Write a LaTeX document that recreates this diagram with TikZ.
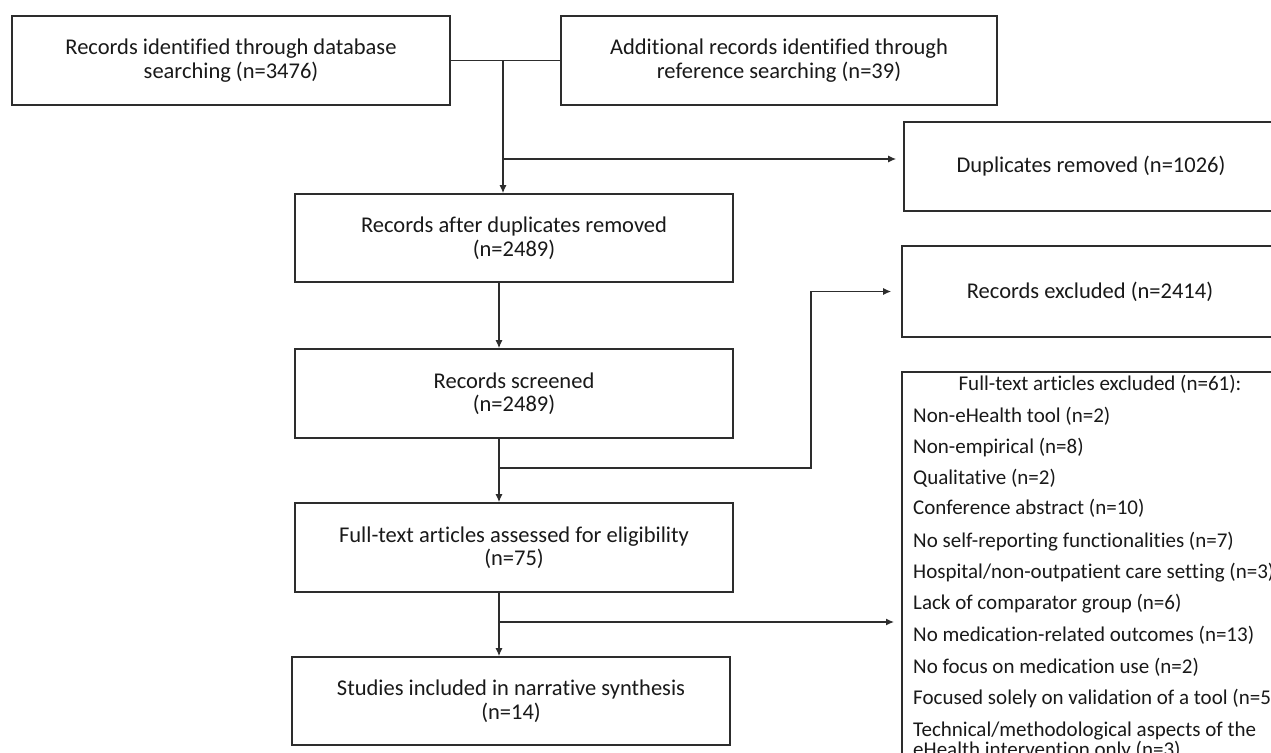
\documentclass[tikz,border=0pt]{standalone}
\usepackage{fontspec}
\setmainfont{Carlito}[Ligatures=NoCommon]
\usetikzlibrary{arrows.meta}
\definecolor{linegray}{RGB}{45,45,45}
\definecolor{inkgray}{RGB}{25,25,25}
\newcommand{\flowboxfont}{\fontsize{22.5}{23.5}\selectfont}
\newcommand{\flowlistfont}{\fontsize{21}{22}\selectfont}
\begin{document}
\begin{tikzpicture}[x=1pt,y=-1pt,
  box/.style={draw=linegray, line width=1.6pt, minimum width=438pt,
    minimum height=89pt, inner sep=0pt, align=center, font=\flowboxfont, text=inkgray},
  link/.style={draw=linegray, line width=1.3pt},
  arr/.style={link, -{Latex[length=8pt,width=7pt]}},
  item/.style={anchor=base west, inner sep=0pt, font=\flowlistfont, text=inkgray}]

\useasboundingbox (0,0) rectangle (1271,752);
\fill[white] (0,0) rectangle (1271,752);
\clip (0,0) rectangle (1271,752);

% identification
\node[box] (dbsearch) at (231,60.5) {Records identified through database\\searching (n=3476)};
\node[box, minimum width=436pt] (refsearch) at (779,60.5) {Additional records identified through\\reference searching (n=39)};

% main column
\node[box, minimum height=88pt] (dedup) at (514,238) {Records after duplicates removed\\(n=2489)};
\node[box] (screened) at (514,393.5) {Records screened\\(n=2489)};
\node[box] (fulltext) at (514,547.5) {Full-text articles assessed for eligibility\\(n=75)};
\node[box, minimum height=88pt] (included) at (511,701) {Studies included in narrative synthesis\\(n=14)};

% exclusions
\node[box, minimum width=374pt] (duplicates) at (1091,166.5) {Duplicates removed (n=1026)};
\node[box, minimum width=376pt, minimum height=91pt] (recexcl) at (1090,291.5) {Records excluded (n=2414)};
\node[draw=linegray, line width=1.6pt, minimum width=400pt, minimum height=420pt,
      inner sep=0pt, anchor=north west] (ftexcl) at (901,371) {};

\node[font=\flowlistfont, text=inkgray, anchor=base, inner sep=0pt] (ftexcltitle) at (1100,390) {Full-text articles excluded (n=61):};
\node[item] (r1)  at (913,422) {Non-eHealth tool (n=2)};
\node[item] (r2)  at (913,453) {Non-empirical (n=8)};
\node[item] (r3)  at (913,484) {Qualitative (n=2)};
\node[item] (r4)  at (913,514) {Conference abstract (n=10)};
\node[item] (r5)  at (913,547) {No self-reporting functionalities (n=7)};
\node[item] (r6)  at (913,578) {Hospital/non-outpatient care setting (n=3)};
\node[item] (r7)  at (913,609) {Lack of comparator group (n=6)};
\node[item] (r8)  at (913,641) {No medication-related outcomes (n=13)};
\node[item] (r9)  at (913,673) {No focus on medication use (n=2)};
\node[item] (r10) at (913,704) {Focused solely on validation of a tool (n=5)};
\node[item] (r11) at (913,736) {Technical/methodological aspects of the};
\node[item] (r12) at (913,756) {eHealth intervention only (n=3)};

% connectors
\coordinate (merge) at (503,60.5);
\coordinate (dupsplit) at (503,159);
\coordinate (spine) at (499,0);
\coordinate (screensplit) at (499,468);
\coordinate (elbow) at (811,468);
\coordinate (ftsplit) at (499,622);

\draw[link] (dbsearch.east) -- (refsearch.west);
\draw[arr] (merge) -- (merge |- dedup.north);
\draw[arr, shorten >=7pt] (dupsplit) -- (dupsplit -| duplicates.west);

\draw[arr] (dedup.south -| spine) -- (screened.north -| spine);
\draw[arr] (screened.south -| spine) -- (fulltext.north -| spine);
\draw[arr, shorten >=10pt] (screensplit) -- (elbow) |- (recexcl.west);

\draw[arr] (fulltext.south -| spine) -- (included.north -| spine);
\draw[arr, shorten >=7pt] (ftsplit) -- (ftsplit -| ftexcl.west);
\end{tikzpicture}
\end{document}
